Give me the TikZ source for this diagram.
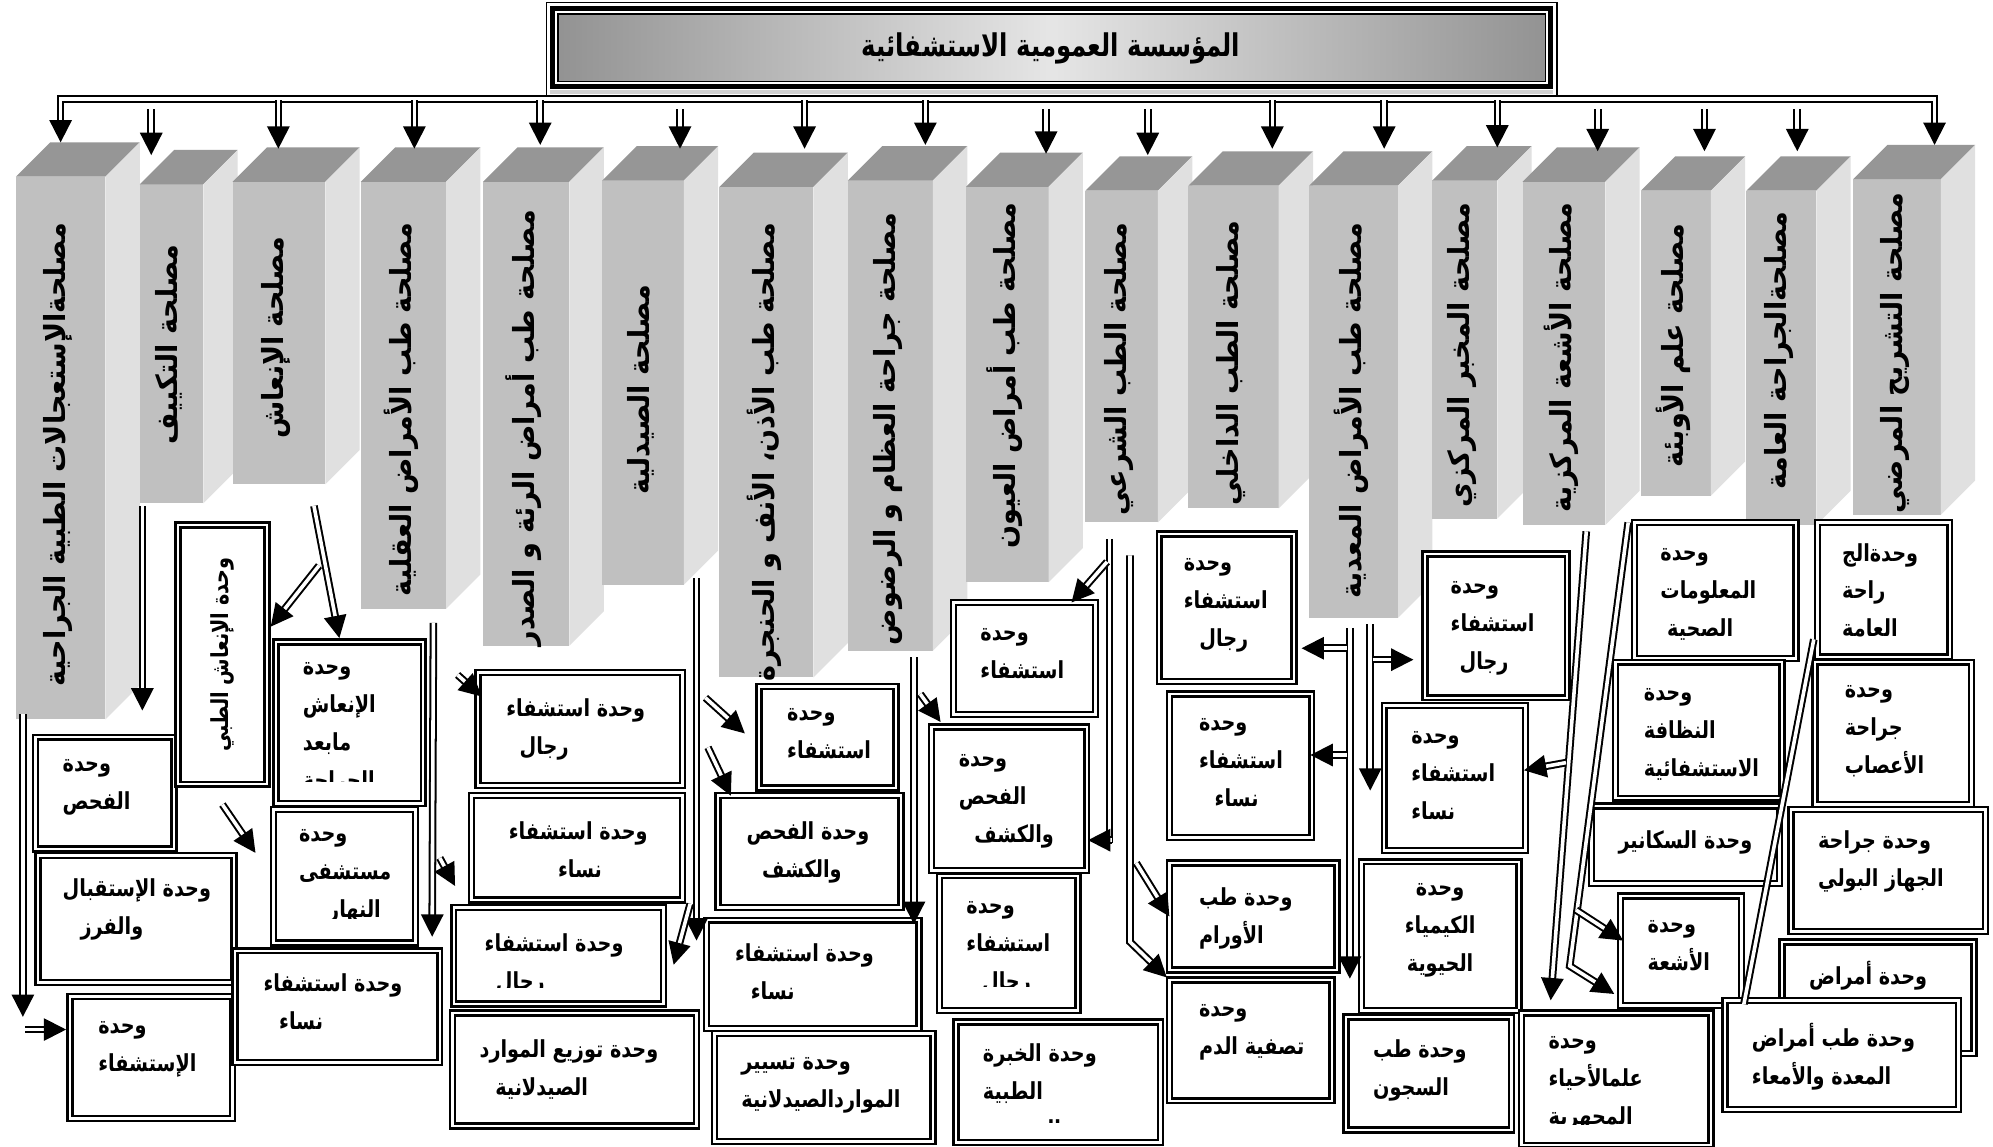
\documentclass[tikz,border=0pt]{standalone}
\usepackage{fontspec}
\usetikzlibrary{arrows.meta,fit}
\newfontfamily\arcol[Script=Arabic, FakeStretch=0.93]{DejaVu Sans}
\newfontfamily\arbox[Script=Arabic, FakeStretch=0.82]{DejaVu Sans}
\newfontfamily\artitle[Script=Arabic, FakeStretch=0.78]{DejaVu Sans}
\TeXXeTstate=1
\newcommand\AR[1]{\beginR #1\endR}
\definecolor{cfront}{HTML}{C0C0C0}
\definecolor{ctop}{HTML}{969696}
\definecolor{cside}{HTML}{E0E0E0}
\tikzset{
  dbl/.style={double, double distance=1.6pt, line width=0.9pt},
  dar/.style={dbl, -{Triangle[length=10pt,width=10pt]}},
  dartwo/.style={dbl, {Triangle[length=10pt,width=10pt]}-{Triangle[length=10pt,width=10pt]}},
  ubox/.style={draw, double, double distance=1.1pt, line width=1.1pt, fill=white, inner sep=0pt},
  utext/.style={anchor=north west, inner sep=0pt, align=left, font=\arbox\bfseries\fontsize{10.5}{17}\selectfont},
  ctext/.style={anchor=north, inner sep=0pt, align=center, font=\arbox\bfseries\fontsize{10.5}{17}\selectfont},
  coltext/.style={rotate=90, anchor=east, inner sep=0pt, font=\arcol\bfseries\fontsize{13}{15}\selectfont},
  vtext/.style={rotate=90, anchor=center, inner sep=0pt, font=\arbox\bfseries\fontsize{10.5}{12}\selectfont},
  colfront/.style={fill=cfront, inner sep=0pt},
  titletext/.style={inner sep=0pt, font=\artitle\bfseries\fontsize{14}{16}\selectfont},
}
% column: name, x1, x2, top, bottom, text y, text
\newcommand\servcol[7]{%
  \node[colfront, fit={(#2,#4) (#3,#5)}] (#1) {};
  \fill[ctop] (#2,#4) -- (#2+27,#4-27) -- (#3+27,#4-27) -- (#3,#4) -- cycle;
  \fill[cside] (#3,#4) -- (#3+27,#4-27) -- (#3+27,#5-27) -- (#3,#5) -- cycle;
  \node[coltext] (#1t) at ({(#2+#3)/2-2},#6) {#7};
}
% unit box: name, x1, y1, x2, y2, text x, text y, text
\newcommand\ubx[8]{%
  \node[ubox, fit={(#2,#3) (#4,#5)}] (#1) {};
  \node[utext] (#1t) at (#6,#7) {#8};
}
% clipped unit box: [bottom inset] name, x1, y1, x2, y2, text x, text y, text
\newcommand\ubxclip[9][4]{%
  \node[ubox, fit={(#3,#4) (#5,#6)}] (#2) {};
  \begin{scope}
    \clip (#3+4,#4+4) rectangle (#5-4,#6-#1);
    \node[utext] (#2t) at (#7,#8) {#9};
  \end{scope}
}
\begin{document}
\begin{tikzpicture}[x=0.2mm, y=-0.2mm]
\useasboundingbox (0,0) rectangle (1568,902);
\fill[white] (0,0) rectangle (1568,902);

% ---------- title ----------
\node[draw, line width=0.6pt, fit={(430,2) (1225,75)}, inner sep=0pt] (title) {};
\fill[gray!35] (433,71) rectangle (1222,74);
\draw[line width=2.2pt] (435,7) rectangle (1220,68);
\shade[left color=gray!85, right color=gray!85, middle color=gray!20] (439,11) rectangle (1216,64);
\draw[line width=0.6pt] (439,11) rectangle (1216,64);
\node[titletext] (titlet) at (827,38) {\AR{المؤسسة العمومية الاستشفائية}};

% ---------- columns ----------
\servcol{c1}{12.5}{83}{139}{566}{175}{\AR{مصلحةالإستعجالات الطبية الجراحية}}
\servcol{c2}{110}{160}{145}{396}{192}{\AR{مصلحة التكييف}}
\servcol{c3}{183}{256}{143}{381}{186}{\AR{مصلحة الإنعاش}}
\servcol{c4}{284}{351}{143}{479}{175}{\AR{مصلحة طب الأمراض العقلية}}
\servcol{c5}{380}{448}{143}{508}{165}{\AR{مصلحة طب أمراض الرئة و الصدر}}
\servcol{c6}{474}{538}{142}{460}{224}{\AR{مصلحة الصيدلية}}
\servcol{c7}{566}{640}{147}{533}{175}{\AR{مصلحة طب الأذن، الأنف و الحنجرة}}
\servcol{c8}{667}{734}{142}{512}{167}{\AR{مصلحة جراحة العظام و الرضوض}}
\servcol{c9}{760}{825}{147}{458}{159}{\AR{مصلحة طب أمراض العيون}}
\servcol{c10}{854}{911}{150}{411}{175}{\AR{مصلحة الطب الشرعي}}
\servcol{c11}{935}{1006}{146}{400}{173}{\AR{مصلحة الطب الداخلي}}
\servcol{c12}{1030}{1100}{146}{486}{175}{\AR{مصلحة طب الأمراض المعدية}}
\servcol{c13}{1127}{1178}{142}{408}{159}{\AR{مصلحة المخبر المركزي}}
\servcol{c14}{1198}{1263}{143}{413}{159}{\AR{مصلحة الأشعة المركزية}}
\servcol{c15}{1291}{1346}{150}{390}{176}{\AR{مصلحة علم الأوبئة}}
\servcol{c16}{1374}{1429}{150}{413}{166}{\AR{مصلحةالجراحة العامة}}
\servcol{c17}{1458}{1527}{141}{405}{151}{\AR{مصلحة التشريح المرضي}}

% ---------- bus and top arrows ----------
\draw[dartwo] (47.7,112) -- (47.7,78) -- (1522,78) -- (1522,114);
\foreach \x/\ys/\ye in {119/86/122, 219/79/117, 326/79/117, 425/79/114, 535/86/117,
  633/79/117, 728/79/114, 823/86/121, 903/86/122, 1001/79/117, 1089/79/117,
  1178/79/116, 1257/86/119, 1341/86/119, 1414/86/119}
  \draw[dar] (\x,\ys) -- (\x,\ye);

% ---------- unit boxes ----------
\ubx{b1}{28}{580}{137}{668}{49}{597}{\AR{وحدة}\\\AR{الفحص}}
\ubx{b2}{30}{673}{184}{773}{49}{691}{\AR{وحدة الإستقبال}\\\hspace*{8pt}\AR{والفرز}}
\ubx{b3}{55}{784}{183}{880}{77}{803}{\AR{وحدة}\\\AR{الإستشفاء}}
\node[ubox, fit={(140,413) (210,617)}] (b4) {};
\node[vtext] (b4t) at (b4.center) {\AR{وحدة الإنعاش الطبي}};
\ubxclip[17]{b5}{217}{505}{333}{632}{238}{521}{\AR{وحدة}\\\AR{الإنعاش}\\\AR{مابعد}\\\AR{الجراحة}}
\ubxclip[19]{b6}{215}{637}{327}{742}{235}{652}{\AR{وحدة}\\\AR{مستشفى}\\\hspace*{13pt}\AR{النهار}}
\ubx{b7}{185}{748}{346}{836}{207}{766}{\AR{وحدة استشفاء}\\\hspace*{7pt}\AR{نساء}}
\ubx{b8}{376}{529}{537}{618}{398}{549}{\AR{وحدة استشفاء}\\\hspace*{6pt}\AR{رجال}}
\ubx{b9}{371}{626}{537}{708}{400}{646}{\AR{وحدة استشفاء}\\\hspace*{22pt}\AR{نساء}}
\ubxclip[13]{b10}{357}{714}{522}{790}{381}{734}{\AR{وحدة استشفاء}\\\hspace*{5pt}\AR{رجال}}
\ubx{b11}{356}{797}{548}{886}{377}{818}{\AR{وحدة توزيع الموارد}\\\hspace*{7pt}\AR{الصيدلانية}}
\ubx{b12}{597}{540}{705}{620}{619}{557}{\AR{وحدة}\\\AR{استشفاء}}
\ubx{b13}{565}{626}{709}{714}{587}{646}{\AR{وحدة الفحص}\\\hspace*{7pt}\AR{والكشف}}
\ubx{b14}{556}{724}{723}{809}{578}{742}{\AR{وحدة استشفاء}\\\hspace*{7pt}\AR{نساء}}
\ubx{b15}{562}{813}{734}{898}{583}{832}{\AR{وحدة تسيير}\\\AR{المواردالصيدلانية}}
\ubx{b16}{750}{474}{862}{562}{771}{494}{\AR{وحدة}\\\AR{استشفاء}}
\ubx{b17}{733}{572}{855}{685}{754}{593}{\AR{وحدة}\\\AR{الفحص}\\\hspace*{7pt}\AR{والكشف}}
\ubxclip[19]{b18}{739}{689}{848}{795}{760}{709}{\AR{وحدة}\\\AR{استشفاء}\\\hspace*{7pt}\AR{رجال}}
\ubxclip[16]{b19}{752}{804}{913}{899}{773}{821}{\AR{وحدة الخبرة}\\\AR{الطبية}\\\AR{الشرعية}}
\ubx{b20}{912}{420}{1018}{536}{931}{439}{\AR{وحدة}\\\AR{استشفاء}\\\hspace*{7pt}\AR{رجال}}
\ubx{b21}{920}{546}{1032}{659}{943}{565}{\AR{وحدة}\\\AR{استشفاء}\\\hspace*{7pt}\AR{نساء}}
\ubx{b22}{920}{679}{1052}{763}{943}{698}{\AR{وحدة طب}\\\AR{الأورام}}
\ubx{b23}{920}{771}{1048}{866}{943}{790}{\AR{وحدة}\\\AR{تصفية الدم}}
\ubx{b24}{1121}{436}{1233}{549}{1141}{457}{\AR{وحدة}\\\AR{استشفاء}\\\hspace*{4pt}\AR{رجال}}
\ubx{b25}{1089}{555}{1200}{669}{1110}{575}{\AR{وحدة}\\\AR{استشفاء}\\\AR{نساء}}
\node[ubox, fit={(1071,678) (1195,795)}] (b26) {};
\node[ctext] (b26t) at (1133,695) {\AR{وحدة}\\\AR{الكيمياء}\\\AR{الحيوية}};
\ubx{b27}{1059}{800}{1189}{889}{1080}{818}{\AR{وحدة طب}\\\AR{السجون}}
\ubxclip[16]{b28}{1197}{797}{1346}{901}{1218}{815}{\AR{وحدة}\\\AR{علمالأحياء}\\\AR{المجهرية}}
\ubx{b29}{1286}{411}{1413}{518}{1306}{431}{\AR{وحدة}\\\AR{المعلومات}\\\hspace*{3pt}\AR{الصحية}}
\ubx{b30}{1271}{521}{1402}{628}{1293}{541}{\AR{وحدة}\\\AR{النظافة}\\\AR{الاستشفائية}}
\ubx{b31}{1252}{634}{1400}{695}{1273}{653}{\AR{وحدة السكانير}}
\ubx{b32}{1275}{705}{1370}{791}{1296}{724}{\AR{وحدة}\\\AR{الأشعة}}
\ubx{b33}{1430}{411}{1534}{517}{1449}{427}{\AR{وحدةالج}\\\AR{راحة}\\\AR{العامة}}
\ubx{b34}{1428}{521}{1551}{633}{1451}{539}{\AR{وحدة}\\\AR{جراحة}\\\AR{الأعصاب}}
\ubx{b35}{1409}{637}{1562}{733}{1430}{653}{\AR{وحدة جراحة}\\\AR{الجهاز البولي}}
\ubx{b36}{1402}{741}{1553}{829}{1423}{756}{\AR{وحدة أمراض}}
\ubx{b37}{1357}{787}{1541}{873}{1378}{805}{\AR{وحدة طب أمراض}\\\AR{المعدة والأمعاء}}

% ---------- inner connectors ----------
\draw[dar] (18,562) -- (18,800);
\draw[dar] (20,810) -- (52,810);
\draw[dar] (112,398) -- (112,559);
\draw[dar] (247,398) -- (267,502);
\draw[dar] (251,445) -- (213,493);
\draw[dar] (175,633) -- (201,671);
\draw[dar] (341,490) -- (340,737);
\draw[dar] (360,531) -- (379,548);
\draw[dar] (346,675) -- (358,697);
\draw[dar] (548,455) -- (548,740);
\draw[dar] (543,711) -- (530,759);
\draw[dar] (555,549) -- (586,577);
\draw[dar] (557,588) -- (575,626);
\draw[dar] (719,517) -- (719,727);
\draw[dar] (724,546) -- (740,568);
\draw[dbl] (873,424) -- (873,663);
\draw[dar] (875,661) -- (856,661);
\draw[dar] (871,442) -- (843,474);
\draw[dar] (889,437) -- (889,741) -- (918,769);
\draw[dar] (894,679) -- (920,721);
\draw[dar] (1062,494) -- (1062,770);
\draw[dar] (1060,510) -- (1024,510);
\draw[dar] (1060,594) -- (1031,594);
\draw[dar] (1078,491) -- (1078,622);
\draw[dar] (1080,519) -- (1112,519);
\draw[dar] (1248,418) -- (1220,787);
\draw[dar] (1232,600) -- (1199,606);
\draw[dar] (1281,411) -- (1235,760) -- (1270,782);
\draw[dar] (1240,716) -- (1277,740);
\draw[dbl] (1427,503) -- (1372,790);
\end{tikzpicture}
\end{document}
